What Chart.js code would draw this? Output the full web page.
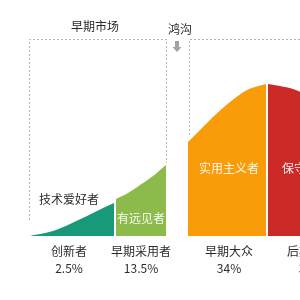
<!DOCTYPE html>
<html>
<head>
<meta charset="utf-8">
<script src="https://cdn.jsdelivr.net/npm/chart.js@4.4.1/dist/chart.umd.min.js"></script>
<style>
  html, body { margin: 0; padding: 0; background: #fff; }
  #wrap { width: 300px; height: 300px; position: relative; }
</style>
</head>
<body>
<div id="wrap"><canvas id="chart"></canvas></div>
<script>
// Кривая жизненного цикла: высота над базовой линией
const innovX = [30, 53, 70, 87, 103, 114];
const innovY = [0, 5, 12, 20, 28, 33];
const earlyX = [116, 128, 140, 153, 166];
const earlyY = [37, 43, 51, 60, 71];
const majorX = [188, 200, 213, 230, 247, 266];
const majorY = [94, 106, 119, 134, 146, 152];
const lateX = [268, 280, 293, 305, 318];
const lateY = [152, 150, 147, 142, 136];

const groupNames = ['创新者', '早期采用者', '早期大众', '后期大众'];
const groupShares = ['2.5%', '13.5%', '34%', '34%'];
const roleNames = ['技术爱好者', '有远见者', '实用主义者', '保守主义者'];
const colors = ['#17997a', '#8cbb4b', '#f99c0a', '#cc2a27'];

const FONT = '"Noto Sans CJK SC", "Noto Sans", sans-serif';

function toPoints(xs, ys) {
    return xs.map((x, i) => ({ x: x, y: ys[i] }));
}

function segment(xs, ys, color) {
    return {
        data: toPoints(xs, ys),
        fill: 'origin',
        backgroundColor: color,
        borderWidth: 0,
        pointRadius: 0,
        cubicInterpolationMode: 'monotone'
    };
}

// Подписи, рамки и стрелка поверх графика
const overlayPlugin = {
    id: 'overlay',
    afterDatasetsDraw(chart) {
        const ctx = chart.ctx;
        const sx = chart.scales.x;
        const sy = chart.scales.y;
        const px = v => sx.getPixelForValue(v);
        const py = v => sy.getPixelForValue(v);

        // пунктирные рамки
        ctx.save();
        ctx.strokeStyle = '#b4b4b4';
        ctx.lineWidth = 1;
        ctx.setLineDash([2, 2]);
        ctx.beginPath();
        ctx.moveTo(px(29) + 0.5, py(16));
        ctx.lineTo(px(29) + 0.5, py(197) + 0.5);
        ctx.lineTo(px(166) + 0.5, py(197) + 0.5);
        ctx.lineTo(px(166) + 0.5, py(73));
        ctx.moveTo(px(189) + 0.5, py(101));
        ctx.lineTo(px(189) + 0.5, py(197) + 0.5);
        ctx.lineTo(px(300), py(197) + 0.5);
        ctx.stroke();
        ctx.restore();

        // стрелка к «鸿沟»
        ctx.save();
        ctx.fillStyle = '#a3a3a3';
        const ax = px(177);
        ctx.fillRect(ax - 2, py(195), 4, 6);
        ctx.beginPath();
        ctx.moveTo(ax - 4.5, py(189));
        ctx.lineTo(ax + 4.5, py(189));
        ctx.lineTo(ax, py(184));
        ctx.closePath();
        ctx.fill();
        ctx.restore();

        ctx.save();
        ctx.font = '12px ' + FONT;
        ctx.textAlign = 'center';
        ctx.textBaseline = 'middle';

        ctx.fillStyle = '#2b2b2b';
        ctx.fillText('早期市场', px(95), py(210));
        ctx.fillText('鸿沟', px(180), py(207));

        // роли
        const rolePos = [[69, 37], [141, 18], [229, 68], [312, 68]];
        roleNames.forEach((name, i) => {
            ctx.fillStyle = i === 0 ? '#2b2b2b' : 'rgba(255,255,255,0.92)';
            ctx.fillText(name, px(rolePos[i][0]), py(rolePos[i][1]));
        });

        // группы и доли
        const groupPos = [69, 141, 229, 311];
        ctx.fillStyle = '#2b2b2b';
        groupNames.forEach((name, i) => {
            ctx.fillText(name, px(groupPos[i]), py(-15));
            ctx.fillText(groupShares[i], px(groupPos[i]), py(-32));
        });
        ctx.restore();
    }
};

const ctx = document.getElementById('chart').getContext('2d');
new Chart(ctx, {
    type: 'line',
    data: {
        datasets: [
            segment(innovX, innovY, colors[0]),
            segment(earlyX, earlyY, colors[1]),
            segment(majorX, majorY, colors[2]),
            segment(lateX, lateY, colors[3])
        ]
    },
    options: {
        responsive: true,
        maintainAspectRatio: false,
        animation: false,
        layout: { padding: 0 },
        plugins: {
            legend: { display: false },
            tooltip: { enabled: false }
        },
        scales: {
            x: { type: 'linear', min: 0, max: 300, display: false },
            y: { min: -64, max: 236, display: false }
        }
    },
    plugins: [overlayPlugin]
});
</script>
</body>
</html>
